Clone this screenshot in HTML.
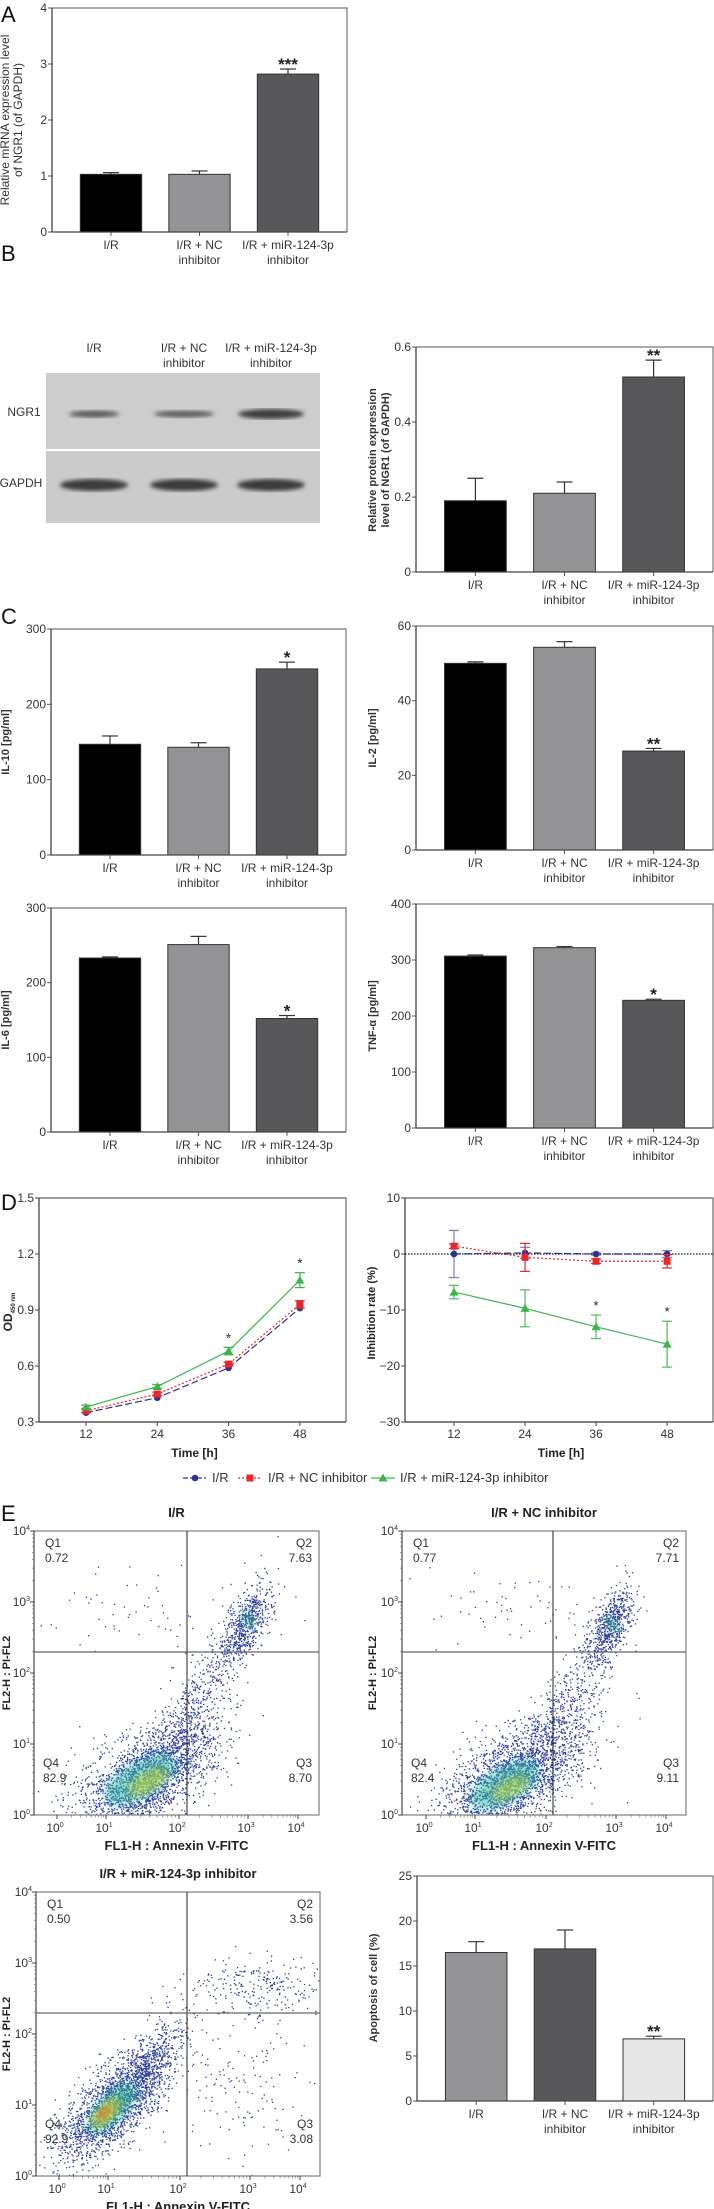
<!DOCTYPE html>
<html><head><meta charset="utf-8">
<style>
html,body{margin:0;padding:0;background:#fff;}
svg{display:block;font-family:"Liberation Sans Narrow","Liberation Sans",sans-serif;}
.b{font-family:"Liberation Sans",sans-serif;font-weight:bold;}
</style></head>
<body>
<svg id="fig" width="714" height="2209" viewBox="0 0 714 2209" xmlns="http://www.w3.org/2000/svg">
<defs>
<filter id="blur2"><feGaussianBlur stdDeviation="2.2"/></filter>
<filter id="blur4"><feGaussianBlur stdDeviation="5"/></filter>
</defs>
<g id="root"></g>
</svg>
<script>
// ---------- data ----------
const categories = ["I/R", "I/R + NC|inhibitor", "I/R + miR-124-3p|inhibitor"];
const aValues = [1.03, 1.03, 2.82];
const aErrors = [0.03, 0.06, 0.09];
const bValues = [0.19, 0.21, 0.52];
const bErrors = [0.06, 0.03, 0.045];
const il10Values = [147, 143, 247];
const il10Errors = [11, 6, 9];
const il2Values = [50, 54.3, 26.5];
const il2Errors = [0.4, 1.5, 0.7];
const il6Values = [233, 251, 152];
const il6Errors = [1.5, 11, 4];
const tnfValues = [307, 322, 228];
const tnfErrors = [2, 2, 2];
const apopValues = [16.5, 16.9, 6.9];
const apopErrors = [1.2, 2.1, 0.3];
const timePoints = [12, 24, 36, 48];
const odIR = [0.35, 0.43, 0.59, 0.91];
const odNC = [0.36, 0.45, 0.61, 0.93];
const odMiR = [0.38, 0.49, 0.68, 1.06];
const odMiRErr = [0.01, 0.01, 0.02, 0.04];
const odNCErr = [0.01, 0.01, 0.01, 0.02];
const inhIR = [0, 0.2, 0, 0];
const inhIRErr = [4.2, 1, 0.2, 0.6];
const inhNC = [1.4, -0.6, -1.3, -1.3];
const inhNCErr = [0.4, 2.5, 0.4, 1.2];
const inhMiR = [-6.8, -9.7, -13, -16.1];
const inhMiRErr = [1.2, 3.3, 2.1, 4.1];
const odTicks = [0.3, 0.6, 0.9, 1.2, 1.5];
const inhTicks = [-30, -20, -10, 0, 10];

const NS = "http://www.w3.org/2000/svg";
const root = document.getElementById("root");
function el(tag, attrs, parent, text) {
  const e = document.createElementNS(NS, tag);
  for (const k in attrs) e.setAttribute(k, attrs[k]);
  if (text !== undefined) e.textContent = text;
  (parent || root).appendChild(e);
  return e;
}
function label(x, y, str, opts, parent) {
  opts = opts || {};
  const t = el("text", {x: x, y: y, "text-anchor": opts.anchor || "middle", class: opts.bold ? "b" : "",
    "font-size": opts.size || 12, fill: opts.fill || "#333"}, parent, str);
  if (opts.rot) t.setAttribute("transform", "rotate(-90 " + x + " " + y + ")");
  
  
  return t;
}

// ---------- bar chart ----------
function barChart(o) {
  const g = el("g", {});
  
  
  const W = o.x1 - o.x0;
  const ys = v => o.yBot - (v - 0) / o.max * (o.yBot - o.yTop);
  el("polyline", {points: `${o.x0},${o.yTop} ${o.x1},${o.yTop} ${o.x1},${o.yBot}`, fill: "none", stroke: "#777", "stroke-width": 1.2}, g);
  o.ticks.forEach(tv => {
    const y = ys(tv);
    el("line", {x1: o.x0 - 4, x2: o.x0, y1: y, y2: y, stroke: "#555"}, g);
    label(o.x0 - 5, y + 4, o.fmt(tv), {anchor: "end", name: "y-tick-label"}, g);
  });
  o.vals.forEach((v, i) => {
    const cx = o.x0 + W * [0.2, 0.5, 0.8][i];
    const bw = W * 0.208;
    const top = ys(v), errTop = ys(v + o.errs[i]);
    const ebar = el("line", {x1: cx, x2: cx, y1: top, y2: errTop, stroke: "#333", "stroke-width": 1.2}, g);
    
    el("line", {x1: cx - 8, x2: cx + 8, y1: errTop, y2: errTop, stroke: "#333", "stroke-width": 1.2}, g);
    const r = el("rect", {x: cx - bw / 2, y: top, width: bw, height: o.yBot - top, fill: o.colors[i], stroke: "#333", "stroke-width": 1}, g);
    
    
    el("line", {x1: cx, x2: cx, y1: o.yBot, y2: o.yBot + 4, stroke: "#555"}, g);
    const parts = categories[i].split("|");
    parts.forEach((p, k) => label(cx, o.yBot + 17 + k * 15, p, {name: "x-category-label", size: 12}, g));
    if (o.stars[i]) label(cx, errTop + 1, o.stars[i], {size: 17, fill: "#222", name: "significance-stars", bold: true}, g);
  });
  el("line", {x1: o.x0, x2: o.x0, y1: o.yTop, y2: o.yBot, stroke: "#444", "stroke-width": 1.3}, g);
  el("line", {x1: o.x0, x2: o.x1, y1: o.yBot, y2: o.yBot, stroke: "#444", "stroke-width": 1.3}, g);
  o.ylabel.forEach((ln, k) => label(o.ylx + k * 13, o.yly, ln, {rot: true, bold: o.bold, size: o.bold ? 11 : 12, name: "y-axis-title"}, g));
}
const C3 = ["#000", "#939396", "#58585a"];
const fmtInt = v => String(v);

barChart({name: "panel-a-chart", x0: 52, x1: 347, yTop: 8, yBot: 232, max: 4, ticks: [0,1,2,3,4], fmt: fmtInt,
  vals: aValues, errs: aErrors, colors: C3, stars: ["", "", "***"], ylabel: ["Relative mRNA expression level", "of NGR1 (of GAPDH)"], ylx: 9, yly: 120});
barChart({name: "panel-b-chart", x0: 416, x1: 713, yTop: 347, yBot: 572, max: 0.6, ticks: [0,0.2,0.4,0.6], fmt: v => v === 0 ? "0" : v.toFixed(1),
  vals: bValues, errs: bErrors, colors: C3, stars: ["", "", "**"], ylabel: ["Relative protein expression", "level of NGR1 (of GAPDH)"], ylx: 376, yly: 460, bold: true});
barChart({name: "il10-chart", x0: 51, x1: 346, yTop: 629, yBot: 855, max: 300, ticks: [0,100,200,300], fmt: fmtInt,
  vals: il10Values, errs: il10Errors, colors: C3, stars: ["", "", "*"], ylabel: ["IL-10 [pg/ml]"], ylx: 9, yly: 742, bold: true});
barChart({name: "il2-chart", x0: 416, x1: 713, yTop: 626, yBot: 850, max: 60, ticks: [0,20,40,60], fmt: fmtInt,
  vals: il2Values, errs: il2Errors, colors: C3, stars: ["", "", "**"], ylabel: ["IL-2 [pg/ml]"], ylx: 376, yly: 738, bold: true});
barChart({name: "il6-chart", x0: 51, x1: 346, yTop: 908, yBot: 1132, max: 300, ticks: [0,100,200,300], fmt: fmtInt,
  vals: il6Values, errs: il6Errors, colors: C3, stars: ["", "", "*"], ylabel: ["IL-6 [pg/ml]"], ylx: 9, yly: 1020, bold: true});
barChart({name: "tnf-chart", x0: 416, x1: 713, yTop: 904, yBot: 1128, max: 400, ticks: [0,100,200,300,400], fmt: fmtInt,
  vals: tnfValues, errs: tnfErrors, colors: C3, stars: ["", "", "*"], ylabel: ["TNF-α [pg/ml]"], ylx: 376, yly: 1016, bold: true});
barChart({name: "apoptosis-chart", x0: 417, x1: 713, yTop: 1876, yBot: 2101, max: 25, ticks: [0,5,10,15,20,25], fmt: fmtInt,
  vals: apopValues, errs: apopErrors, colors: ["#939396", "#58585a", "#e6e6e6"], stars: ["", "", "**"], ylabel: ["Apoptosis of cell (%)"], ylx: 377, yly: 1988, bold: true});

// panel letters
[["A",1,22],["B",1,261],["C",1,624],["D",1,1210],["E",1,1521]].forEach(p => {
  label(p[1], p[2], p[0], {anchor: "start", size: 22, fill: "#111", name: "panel-letter-" + p[0].toLowerCase()});
});

// ---------- Western blot ----------
(function () {
  const g = el("g", {});
  
  
  el("rect", {x: 46, y: 373, width: 274, height: 76, fill: "#cdcdcd"}, g);
  el("rect", {x: 46, y: 451, width: 274, height: 72, fill: "#cbcbcb"}, g);
  const lanes = [94, 184, 271];
  const ngr = [[25, 3.5, "#5a5a5a"], [30, 3.5, "#5e5e5e"], [33, 5, "#3e3e3e"]];
  lanes.forEach((cx, i) => {
    const b = el("ellipse", {cx: cx, cy: 414, rx: ngr[i][0], ry: ngr[i][1], fill: ngr[i][2], filter: "url(#blur2)"}, g);
    
    const b2 = el("ellipse", {cx: cx, cy: 485, rx: 34, ry: 6, fill: "#3a3a3a", filter: "url(#blur2)"}, g);
    
  });
  label(94, 352, "I/R", {name: "lane-label"}, g);
  label(184, 352, "I/R + NC", {name: "lane-label"}, g);
  label(184, 367, "inhibitor", {name: "lane-label"}, g);
  label(271, 352, "I/R + miR-124-3p", {name: "lane-label"}, g);
  label(271, 367, "inhibitor", {name: "lane-label"}, g);
  label(24, 416, "NGR1", {name: "ngr1-label"}, g);
  label(21, 487, "GAPDH", {name: "gapdh-label"}, g);
})();

// ---------- line charts (D) ----------
function lineChart(o) {
  const g = el("g", {});
  
  
  const xs = t => o.xa + (t - 12) * o.xk;
  const ys = v => o.yBot - (v - o.min) / (o.max - o.min) * (o.yBot - o.yTop);
  el("polyline", {points: `${o.x0},${o.yTop} ${o.x1},${o.yTop} ${o.x1},${o.yBot}`, fill: "none", stroke: "#666", "stroke-width": 1.2}, g);
  el("line", {x1: o.x0, x2: o.x0, y1: o.yTop, y2: o.yBot, stroke: "#333", "stroke-width": 1.2}, g);
  el("line", {x1: o.x0, x2: o.x1, y1: o.yBot, y2: o.yBot, stroke: "#333", "stroke-width": 1.2}, g);
  o.ticks.forEach(tv => {
    const y = ys(tv);
    el("line", {x1: o.x0 - 4, x2: o.x0, y1: y, y2: y, stroke: "#444"}, g);
    label(o.x0 - 5, y + 4, o.fmt(tv), {anchor: "end", name: "y-tick-label"}, g);
  });
  timePoints.forEach(t => {
    el("line", {x1: xs(t), x2: xs(t), y1: o.yBot, y2: o.yBot + 4, stroke: "#444"}, g);
    label(xs(t), o.yBot + 16, String(t), {name: "x-tick-label"}, g);
  });
  label((o.x0 + o.x1) / 2 + 2, o.yBot + 35, "Time [h]", {size: 12, fill: "#222", name: "x-axis-title"}, g).setAttribute("font-weight", "bold");
  if (o.zeroLine) el("line", {x1: o.x0, x2: o.x1, y1: ys(0), y2: ys(0), stroke: "#111", "stroke-width": 1.3, "stroke-dasharray": "1.5,1.5"}, g);
  o.series.forEach(s => {
    const pts = s.vals.map((v, i) => xs(timePoints[i]) + "," + ys(v)).join(" ");
    const ln = el("polyline", {points: pts, fill: "none", stroke: s.color, "stroke-width": 1.2, "stroke-dasharray": s.dash || "none"}, g);
    
    s.vals.forEach((v, i) => {
      const x = xs(timePoints[i]), y = ys(v);
      if (s.errs) {
        const e = s.errs[i];
        el("line", {x1: x, x2: x, y1: ys(v - e), y2: ys(v + e), stroke: s.errColor, "stroke-width": 1.2}, g);
        el("line", {x1: x - 5, x2: x + 5, y1: ys(v + e), y2: ys(v + e), stroke: s.errColor, "stroke-width": 1.2}, g);
        el("line", {x1: x - 5, x2: x + 5, y1: ys(v - e), y2: ys(v - e), stroke: s.errColor, "stroke-width": 1.2}, g);
      }
      let m;
      if (s.shape === "c") m = el("circle", {cx: x, cy: y, r: 3.3, fill: s.color}, g);
      else if (s.shape === "s") m = el("rect", {x: x - 3.5, y: y - 3.5, width: 7, height: 7, fill: s.color}, g);
      else m = el("polygon", {points: `${x},${y - 4.5} ${x - 4.5},${y + 3.5} ${x + 4.5},${y + 3.5}`, fill: s.color}, g);
      
      
      if (s.stars && s.stars[i]) label(x, ys(v + (s.errs ? s.errs[i] : 0)) - 5, "*", {size: 13, fill: "#222", name: "significance-star"}, g);
    });
  });
  return g;
}
lineChart({name: "od-chart", x0: 39, x1: 346, yTop: 1198, yBot: 1422, min: 0.3, max: 1.5, xa: 86, xk: 5.94, ticks: odTicks, fmt: v => v.toFixed(1),
  series: [
    {name: "ir", vals: odIR, color: "#2e3192", shape: "c", dash: "7,3"},
    {name: "nc", vals: odNC, color: "#e8262b", shape: "s", dash: "2,2", errs: odNCErr, errColor: "#e8262b"},
    {name: "mir", vals: odMiR, color: "#3cb44a", shape: "t", errs: odMiRErr, errColor: "#3cb44a", stars: ["", "", "*", "*"]}
  ]});
(function(){
  const t = el("text", {x: 12, y: 1312, "text-anchor": "middle", "font-size": 12, "font-weight": "bold", fill: "#222", transform: "rotate(-90 12 1312)", "font-family": "Liberation Sans, sans-serif"});
  
  
  t.appendChild(document.createTextNode("OD"));
  const s = document.createElementNS(NS, "tspan"); s.setAttribute("font-size", "6"); s.setAttribute("dy", "3"); s.textContent = "450 nm"; t.appendChild(s);
})();
lineChart({name: "inhibition-chart", x0: 405, x1: 713, yTop: 1198, yBot: 1422, min: -30, max: 10, xa: 454, xk: 5.92, ticks: inhTicks, fmt: v => v < 0 ? "−" + (-v) : String(v), zeroLine: true,
  series: [
    {name: "ir", vals: inhIR, color: "#2e3192", shape: "c", dash: "7,3", errs: inhIRErr, errColor: "#7a7fb5"},
    {name: "nc", vals: inhNC, color: "#e8262b", shape: "s", dash: "2,2", errs: inhNCErr, errColor: "#e8262b"},
    {name: "mir", vals: inhMiR, color: "#3cb44a", shape: "t", errs: inhMiRErr, errColor: "#4cbc5a", stars: ["", "", "*", "*"]}
  ]});
label(375, 1313, "Inhibition rate (%)", {rot: true, bold: true, size: 11, fill: "#222", name: "y-axis-title"});

// legend
(function () {
  const g = el("g", {});
  
  
  const y = 1478;
  el("line", {x1: 183, x2: 206, y1: y, y2: y, stroke: "#2e3192", "stroke-width": 1.2, "stroke-dasharray": "5,2"}, g);
  el("circle", {cx: 195, cy: y, r: 3.3, fill: "#2e3192"}, g);
  label(212, y + 4, "I/R", {anchor: "start", name: "legend-entry", size: 13}, g);
  el("line", {x1: 238, x2: 262, y1: y, y2: y, stroke: "#e8262b", "stroke-width": 1.2, "stroke-dasharray": "2,2"}, g);
  el("rect", {x: 246.5, y: y - 3.5, width: 7, height: 7, fill: "#e8262b"}, g);
  label(268, y + 4, "I/R + NC inhibitor", {anchor: "start", name: "legend-entry", size: 13}, g);
  el("line", {x1: 371, x2: 395, y1: y, y2: y, stroke: "#3cb44a", "stroke-width": 1.2}, g);
  el("polygon", {points: `383,${y - 4.5} 378.5,${y + 3.5} 387.5,${y + 3.5}`, fill: "#3cb44a"}, g);
  label(400, y + 4, "I/R + miR-124-3p inhibitor", {anchor: "start", name: "legend-entry", size: 13}, g);
})();

// ---------- flow cytometry plots ----------
let seed = 12345;
function rnd() { seed = (seed * 1103515245 + 12345) % 2147483648; return seed / 2147483648; }
function gauss() { let u = rnd() || 1e-6, v = rnd(); return Math.sqrt(-2 * Math.log(u)) * Math.cos(2 * Math.PI * v); }
function flowPlot(o) {
  const g = el("g", {});
  
  
  const clipId = "clip-" + o.name;
  const cp = el("clipPath", {id: clipId}, g);
  el("rect", {x: o.x0, y: o.y0, width: o.x1 - o.x0, height: o.y1 - o.y0}, cp);
  const dg = el("g", {"clip-path": "url(#" + clipId + ")"}, g);
  o.clusters.forEach(c => {
    for (let k = 0; k < c.n; k++) {
      const a = gauss() * c.sa, b = gauss() * c.sb;
      const ang = c.ang * Math.PI / 180;
      const x = c.cx + a * Math.cos(ang) - b * Math.sin(ang);
      const y = c.cy + a * Math.sin(ang) + b * Math.cos(ang);
      el("rect", {x: x, y: y, width: 1.3, height: 1.3, fill: c.col}, dg);
    }
  });
  (o.cores || []).forEach(c => {
    el("ellipse", {cx: c[0], cy: c[1], rx: c[2], ry: c[3], fill: c[4], opacity: c[5], filter: "url(#blur4)", transform: `rotate(${c[6]} ${c[0]} ${c[1]})`}, dg);
  });
  el("rect", {x: o.x0, y: o.y0, width: o.x1 - o.x0, height: o.y1 - o.y0, fill: "none", stroke: "#888", "stroke-width": 1.3}, g);
  el("line", {x1: o.x0, x2: o.x0, y1: o.y0, y2: o.y1, stroke: "#444", "stroke-width": 1}, g);
  el("line", {x1: o.vx, x2: o.vx, y1: o.y0, y2: o.y1, stroke: "#222", "stroke-width": 1}, g);
  el("line", {x1: o.x0, x2: o.x1, y1: o.hy, y2: o.hy, stroke: "#666", "stroke-width": 1.3}, g);
  const dec = (o.y1 - o.y0) / 4;
  for (let i = 0; i <= 4; i++) {
    const y = o.y1 - i * dec;
    const t = label(o.x0 - 4, y + 4, "10", {anchor: "end", name: "y-tick-label"}, g);
    const s = document.createElementNS(NS, "tspan"); s.setAttribute("font-size", "7"); s.setAttribute("dy", "-5"); s.textContent = String(i); t.appendChild(s);
    el("line", {x1: o.x0 - 4, x2: o.x0, y1: y, y2: y, stroke: "#444"}, g);
    if (i < 4) for (let m = 2; m < 10; m++) { const yy = y - Math.log10(m) * dec; el("line", {x1: o.x0 - 2, x2: o.x0, y1: yy, y2: yy, stroke: "#666", "stroke-width": 0.6}, g); }
  }
  o.xdec.forEach((x, i) => {
    const t = label(x - 2, o.y1 + 17, "10", {name: "x-tick-label"}, g);
    const s = document.createElementNS(NS, "tspan"); s.setAttribute("font-size", "7"); s.setAttribute("dy", "-5"); s.textContent = String(i); t.appendChild(s);
    el("line", {x1: x, x2: x, y1: o.y1, y2: o.y1 + 4, stroke: "#444"}, g);
  });
  for (let i = 0; i < o.xdec.length - 1; i++) for (let m = 2; m < 10; m++) {
    const xx = o.xdec[i] + Math.log10(m) * (o.xdec[i + 1] - o.xdec[i]);
    el("line", {x1: xx, x2: xx, y1: o.y1, y2: o.y1 + 2.5, stroke: "#666", "stroke-width": 0.6}, g);
  }
  const cx = (o.x0 + o.x1) / 2;
  label(cx, o.y0 - 14, o.title, {size: 13, fill: "#222", name: "plot-title"}, g).setAttribute("font-weight", "bold");
  label(cx, o.y1 + 35, "FL1-H : Annexin V-FITC", {size: 13, fill: "#222", name: "x-axis-title"}, g).setAttribute("font-weight", "bold");
  label(o.ylx, (o.y0 + o.y1) / 2, "FL2-H : PI-FL2", {rot: true, size: 11, bold: true, fill: "#222", name: "y-axis-title"}, g);
  label(o.x0 + 11, o.y0 + 16, "Q1", {anchor: "start", name: "quadrant-label"}, g);
  label(o.x0 + 11, o.y0 + 31, o.q[0], {anchor: "start", name: "quadrant-value"}, g);
  label(o.x1 - 7, o.y0 + 16, "Q2", {anchor: "end", name: "quadrant-label"}, g);
  label(o.x1 - 7, o.y0 + 31, o.q[1], {anchor: "end", name: "quadrant-value"}, g);
  label(o.x0 + 9, o.y1 - 48, "Q4", {anchor: "start", name: "quadrant-label"}, g);
  label(o.x0 + 9, o.y1 - 33, o.q[3], {anchor: "start", name: "quadrant-value"}, g);
  label(o.x1 - 7, o.y1 - 48, "Q3", {anchor: "end", name: "quadrant-label"}, g);
  label(o.x1 - 7, o.y1 - 33, o.q[2], {anchor: "end", name: "quadrant-value"}, g);
}
const B = "#2a3d9c";
flowPlot({name: "flow-ir", title: "I/R", x0: 34, x1: 319, y0: 1531, y1: 1815, vx: 187, hy: 1652, ylx: 10,
  xdec: [57, 106, 179, 248, 298], q: ["0.72", "7.63", "8.70", "82.9"],
  clusters: [
    {cx: 145, cy: 1778, sa: 42, sb: 20, ang: -35, n: 2400, col: B},
    {cx: 190, cy: 1710, sa: 45, sb: 12, ang: -60, n: 500, col: B},
    {cx: 245, cy: 1625, sa: 22, sb: 9, ang: -65, n: 650, col: B},
    {cx: 150, cy: 1610, sa: 60, sb: 20, ang: 0, n: 70, col: B}
  ],
  cores: [[140, 1780, 40, 18, "#2fb8a0", 0.55, -30], [148, 1782, 22, 10, "#d8e030", 0.55, -30], [248, 1620, 6, 10, "#3cc080", 0.5, -30]]});
flowPlot({name: "flow-nc", title: "I/R + NC inhibitor", x0: 402, x1: 686, y0: 1531, y1: 1815, vx: 553, hy: 1652, ylx: 376,
  xdec: [426, 475, 546, 616, 666], q: ["0.77", "7.71", "9.11", "82.4"],
  clusters: [
    {cx: 512, cy: 1778, sa: 42, sb: 20, ang: -35, n: 2400, col: B},
    {cx: 565, cy: 1710, sa: 45, sb: 13, ang: -60, n: 500, col: B},
    {cx: 610, cy: 1625, sa: 20, sb: 9, ang: -65, n: 600, col: B},
    {cx: 520, cy: 1610, sa: 60, sb: 18, ang: 0, n: 70, col: B}
  ],
  cores: [[505, 1785, 38, 18, "#2fb8a0", 0.55, -30], [510, 1788, 20, 9, "#d8e030", 0.5, -30], [612, 1624, 6, 10, "#3cc080", 0.5, -30]]});
flowPlot({name: "flow-mir", title: "I/R + miR-124-3p inhibitor", x0: 36, x1: 320, y0: 1892, y1: 2176, vx: 187, hy: 2013, ylx: 10,
  xdec: [59, 108, 180, 250, 300], q: ["0.50", "3.56", "3.08", "92.9"],
  clusters: [
    {cx: 115, cy: 2103, sa: 38, sb: 15, ang: -45, n: 2200, col: B},
    {cx: 150, cy: 2060, sa: 30, sb: 10, ang: -55, n: 300, col: B},
    {cx: 265, cy: 1985, sa: 38, sb: 14, ang: 0, n: 260, col: B},
    {cx: 240, cy: 2075, sa: 35, sb: 40, ang: 0, n: 150, col: B}
  ],
  cores: [[112, 2108, 32, 14, "#30c090", 0.6, -45], [106, 2113, 18, 8, "#e8d020", 0.7, -45], [104, 2113, 8, 4, "#ee5020", 0.8, -45]]});
</script>
</body></html>
